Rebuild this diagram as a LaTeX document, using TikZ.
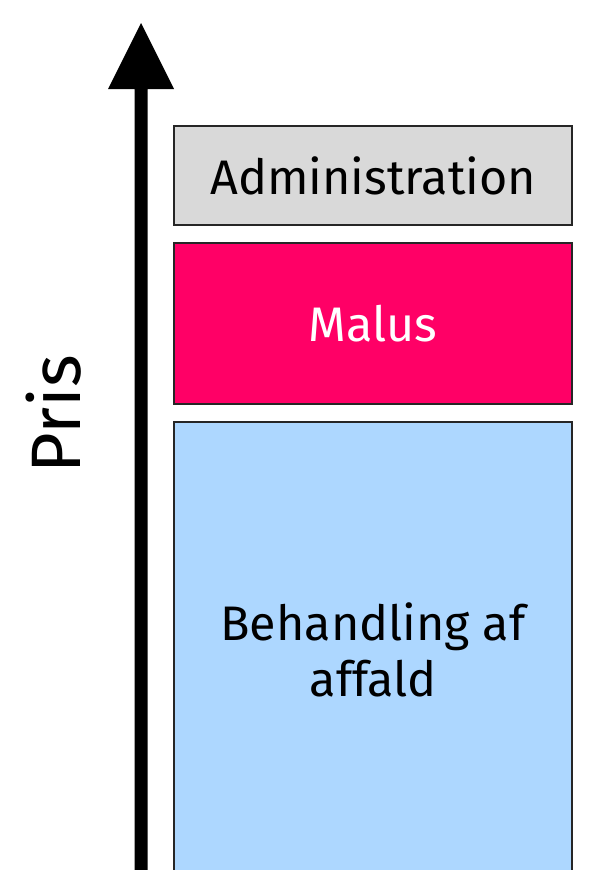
\documentclass[tikz,border=0pt]{standalone}
\usepackage{fontspec}
\setmainfont{Fira Sans}
\definecolor{admgrey}{HTML}{D9D9D9}
\definecolor{maluspink}{HTML}{FF0066}
\definecolor{behblue}{HTML}{ADD7FF}
\begin{document}
\begin{tikzpicture}[x=1pt,y=-1pt,
  barbox/.style={draw=black!85,line width=2.2pt,minimum width=398pt,inner sep=0pt,align=center,anchor=north west,font=\fontsize{48.5}{56}\selectfont},
]
\useasboundingbox (0,0) rectangle (600,870);
\begin{scope}
\clip (0,0) rectangle (600,870);
\node[barbox,fill=admgrey,minimum height=99pt] (adm) at (173,125) {Administration};
\node[barbox,fill=maluspink,text=white,minimum height=161pt] (mal) at (173,242) {Malus};
\node[barbox,fill=behblue,minimum height=460pt] (beh) at (173,421) {};
\node[font=\fontsize{48.5}{56}\selectfont,align=center] (behtxt) at (373,650) {Behandling af\\affald};
\end{scope}
\fill[black] (134.5,870) -- (134.5,89) -- (108,89) -- (141,23) -- (174,89) -- (147.5,89) -- (147.5,870) -- cycle;
\node[rotate=90,font=\fontsize{70}{80}\selectfont] (pris) at (54,414) {Pris};
\end{tikzpicture}
\end{document}
